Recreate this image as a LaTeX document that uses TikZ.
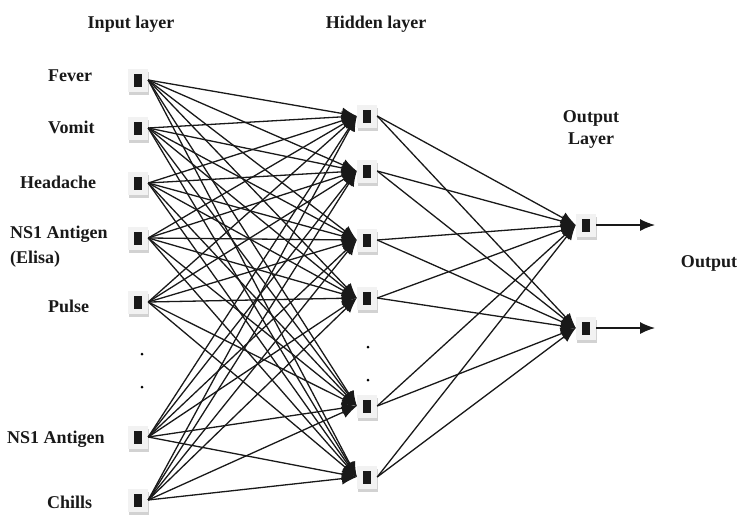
\documentclass[tikz,border=0pt]{standalone}
\usepackage{fontspec}
\setmainfont{Liberation Serif}
\usetikzlibrary{arrows.meta,shadows}
\begin{document}
\begin{tikzpicture}[x=1pt,y=1pt,
  unit/.style={rectangle, fill=gray!10, draw=none, inner sep=0pt,
    minimum width=20pt, minimum height=23pt,
    general shadow={fill=gray!35, shadow xshift=1pt, shadow yshift=-3pt},
    path picture={\fill[black!90] ([xshift=-4.5pt,yshift=-6.5pt]path picture bounding box.center) rectangle ++(8pt,13pt);}},
  lbl/.style={font=\fontsize{18}{20}\selectfont\bfseries, inner sep=0pt, text=black!90},
  conn/.style={draw=black!90, line width=1.3pt},
  arr/.style={conn, -{Latex[length=15pt,width=12pt]}},
  dotm/.style={circle, fill=black, inner sep=0pt, minimum size=3pt}]
\useasboundingbox (0,0) rectangle (739,-515);
% titles
\node[lbl, anchor=base] (tin) at (131,-28) {Input layer};
\node[lbl, anchor=base] (thid) at (376,-28) {Hidden layer};
\node[lbl, anchor=base] (tout1) at (591,-122) {Output};
\node[lbl, anchor=base] (tout2) at (591,-144) {Layer};
\node[lbl, anchor=base] (tres) at (709,-267) {Output};
% input labels
\node[lbl, anchor=base west] (l1) at (48,-81) {Fever};
\node[lbl, anchor=base west] (l2) at (48,-133) {Vomit};
\node[lbl, anchor=base west] (l3) at (20,-188) {Headache};
\node[lbl, anchor=base west] (l4) at (10,-238) {NS1 Antigen};
\node[lbl, anchor=base west] (l4b) at (10,-263) {(Elisa)};
\node[lbl, anchor=base west] (l5) at (48,-312) {Pulse};
\node[lbl, anchor=base west] (l6) at (7,-443) {NS1 Antigen};
\node[lbl, anchor=base west] (l7) at (47,-508) {Chills};
% input nodes
\node[unit] (i1) at (138,-80) {};
\node[unit] (i2) at (138,-128) {};
\node[unit] (i3) at (138,-183) {};
\node[unit] (i4) at (138,-238) {};
\node[unit] (i5) at (138,-302) {};
\node[unit] (i6) at (138,-437) {};
\node[unit] (i7) at (138,-500) {};
\node[dotm] (di1) at (142,-354) {};
\node[dotm] (di2) at (142,-387) {};
% hidden nodes
\node[unit] (h1) at (367,-116) {};
\node[unit] (h2) at (367,-171) {};
\node[unit] (h3) at (367,-240) {};
\node[unit] (h4) at (367,-298) {};
\node[unit] (h5) at (367,-406) {};
\node[unit] (h6) at (367,-477) {};
\node[dotm] (dh1) at (368,-347) {};
\node[dotm] (dh2) at (368,-380) {};
% output nodes
\node[unit] (o1) at (586,-225) {};
\node[unit] (o2) at (586,-328) {};
\coordinate (e1) at (655,-225);
\coordinate (e2) at (655,-328);
% connections
\foreach \i in {1,...,7}{
  \foreach \h in {1,...,6}{
    \draw[arr] (i\i.east) -- (h\h.west);
  }
}
\foreach \h in {1,...,6}{
  \foreach \o in {1,2}{
    \draw[arr] (h\h.east) -- (o\o.west);
  }
}
\draw[arr] (o1.east) -- (e1);
\draw[arr] (o2.east) -- (e2);
\end{tikzpicture}
\end{document}
